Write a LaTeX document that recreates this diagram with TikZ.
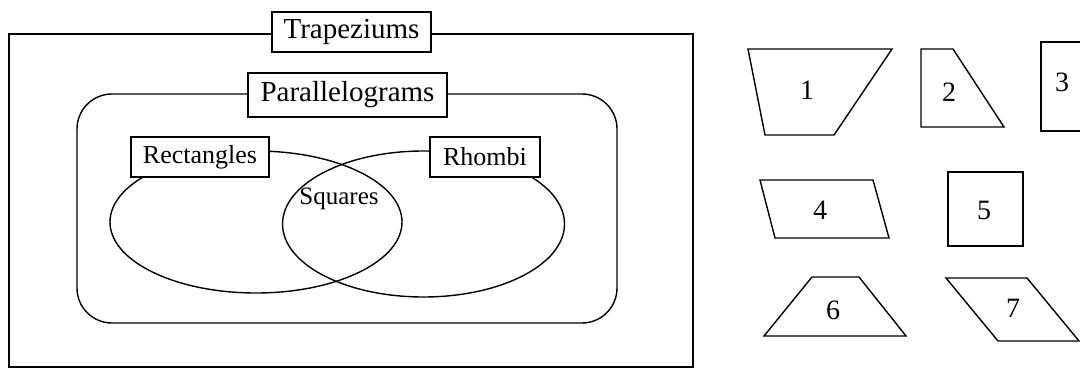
\documentclass[tikz,border=0pt]{standalone}
\usepackage{fontspec}
\setmainfont{Liberation Serif}
\usetikzlibrary{positioning}

\tikzset{
  setbox/.style={draw, fill=white, inner sep=0pt},
  biglabel/.style={font=\fontsize{14.5}{17}\selectfont},
  midlabel/.style={font=\fontsize{13}{15}\selectfont},
  numlabel/.style={font=\fontsize{14}{16}\selectfont},
}

\begin{document}
\begin{tikzpicture}[x=0.5pt, y=-0.5pt, line width=0.7pt]
\clip (0,0) rectangle (1080,369);

% Trapeziums
\draw (9,34) rectangle (693,367);
\node[setbox, biglabel, minimum width=79.5pt, minimum height=20pt] (trap) at (351.5,32) {Trapeziums};

% Parallelograms
\draw[rounded corners=17.5pt] (77,94) rectangle (617,323);
\node[setbox, biglabel, minimum width=99.5pt, minimum height=22pt] (para) at (347.5,95) {Parallelograms};

% Rectangles and rhombi
\draw (256,222) ellipse [x radius=73pt, y radius=35.5pt];
\draw (423.5,224) ellipse [x radius=70.5pt, y radius=36.5pt];
\node[setbox, midlabel, minimum width=69pt, minimum height=20pt] (rect) at (200,157) {Rectangles};
\node[setbox, midlabel, minimum width=55pt, minimum height=20pt] (rhom) at (485,157) {Rhombi};
\node[font=\fontsize{12.5}{14}\selectfont] (sq) at (339,199) {Squares};

% Shapes
\draw[line join=miter] (748,49) -- (892,49) -- (834,135) -- (765,135) -- cycle;
\node[numlabel] (s1) at (807,90) {1};
\draw (921,49) -- (953,49) -- (1004,127) -- (921,127) -- cycle;
\node[numlabel] (s2) at (949,92) {2};
\draw (1041,42) rectangle (1100,131);
\node[numlabel] (s3) at (1062,82) {3};
\draw (760,180) -- (873,180) -- (889,238) -- (775,238) -- cycle;
\node[numlabel] (s4) at (820,210) {4};
\draw (948,172) rectangle (1023,246);
\node[numlabel] (s5) at (984,210) {5};
\draw (812,277) -- (859,277) -- (906,336) -- (764,336) -- cycle;
\node[numlabel] (s6) at (833,310) {6};
\draw (946,278) -- (1027,278) -- (1079,341) -- (998,341) -- cycle;
\node[numlabel] (s7) at (1013,308) {7};
\end{tikzpicture}
\end{document}
